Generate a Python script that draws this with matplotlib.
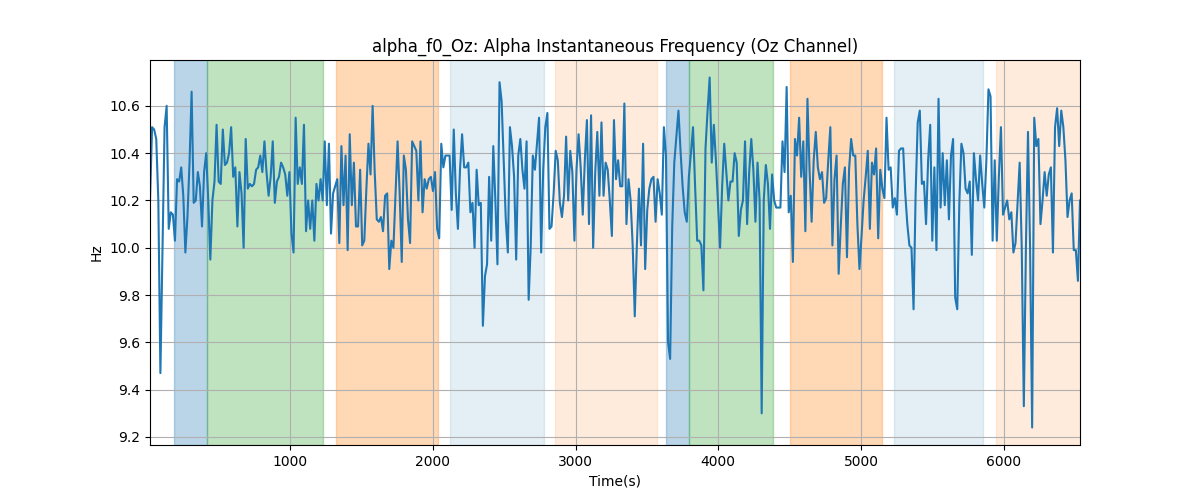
import numpy as np
import matplotlib
matplotlib.use("Agg")
import matplotlib.pyplot as plt

# time range of the series (s)
t_start = 19
t_end = 6534

# instantaneous alpha frequency, Oz channel (Hz)
f0_oz = [
    10.2, 10.51, 10.5, 10.46, 10.2, 9.47, 10.0, 10.51, 10.6, 10.08, 10.15, 10.14, 10.03,
    10.29, 10.28, 10.34, 10.22, 9.98, 10.13, 10.36, 10.66, 10.19, 10.2, 10.32, 10.26,
    10.09, 10.32, 10.4, 10.2, 9.95, 10.2, 10.28, 10.52, 10.28, 10.27, 10.5, 10.35, 10.36, 10.4,
    # 
    10.51, 10.3, 10.34, 10.09, 10.32, 10.23, 10.0, 10.46, 10.25, 10.27, 10.26, 10.27, 10.33,
    10.34, 10.39, 10.32, 10.45, 10.32, 10.22, 10.3, 10.45, 10.19, 10.28, 10.3, 10.36, 10.34,
    10.31, 10.22, 10.32, 10.06, 9.98, 10.55, 10.27, 10.34, 10.27, 10.52, 10.07, 10.2,
    #
    10.08, 10.2, 10.03, 10.27, 10.2, 10.29, 10.2, 10.45, 10.18, 10.44, 10.06, 10.23, 10.26,
    10.29, 10.02, 10.43, 10.18, 10.39, 9.99, 10.48, 10.18, 10.36, 10.09, 10.09, 10.33, 10.01,
    10.03, 10.25, 10.44, 10.31, 10.6, 10.32, 10.12, 10.11, 10.13, 10.07, 10.22,
    #
    10.23, 9.91, 10.03, 10.0, 10.23, 10.45, 10.23, 9.94, 10.39, 10.33, 10.12, 10.02, 10.45,
    10.43, 10.41, 10.2, 10.45, 10.15, 10.29, 10.25, 10.29, 10.3, 10.24, 10.32, 10.08, 10.04,
    10.44, 10.34, 10.39, 10.39, 10.39, 10.16, 10.5, 10.23, 10.08, 10.33, 10.48, 10.34,
    #
    10.34, 10.36, 10.15, 10.19, 10.0, 10.33, 10.18, 10.19, 9.67, 9.88, 9.93, 10.3, 10.03,
    10.43, 10.2, 9.93, 10.7, 10.62, 10.37, 10.12, 9.98, 10.51, 10.43, 10.3, 9.95, 10.39,
    10.46, 10.33, 10.25, 10.45, 9.78, 10.01, 10.39, 10.33, 10.44, 10.55, 9.98,
    #
    10.33, 10.51, 10.57, 10.08, 10.09, 10.23, 10.41, 10.37, 10.19, 10.13, 10.22, 10.47, 10.2,
    10.41, 10.32, 10.03, 10.33, 10.48, 10.34, 10.14, 10.37, 10.54, 10.1, 10.56, 10.0, 10.32,
    10.49, 10.22, 10.53, 10.22, 10.36, 10.33, 10.2, 10.05, 10.54, 10.29, 10.37, 10.26,
    #
    10.26, 10.61, 10.1, 10.29, 10.2, 10.01, 9.71, 10.01, 10.25, 10.01, 10.44, 9.91, 10.16,
    10.25, 10.29, 10.3, 10.11, 10.29, 10.23, 10.14, 10.51, 10.39, 9.6, 9.53, 10.09, 10.36,
    10.47, 10.58, 10.41, 10.26, 10.15, 10.11, 10.3, 10.4, 10.51, 10.26, 10.03,
    #
    10.03, 10.01, 9.82, 10.42, 10.58, 10.72, 10.36, 10.52, 10.37, 10.19, 10.0, 10.26, 10.44,
    10.32, 10.2, 10.28, 10.28, 10.4, 10.36, 10.05, 10.16, 10.2, 10.45, 10.1, 10.32, 10.46,
    10.33, 10.11, 10.36, 10.2, 9.3, 10.2, 10.35, 10.27, 10.08, 10.31, 10.2, 10.17,
    #
    10.17, 10.17, 10.45, 10.32, 10.68, 10.15, 10.22, 9.94, 10.46, 10.39, 10.55, 10.3, 10.45,
    10.07, 10.63, 10.33, 10.11, 10.37, 10.49, 10.34, 10.29, 10.32, 10.19, 10.21, 10.37,
    10.51, 10.01, 10.29, 10.39, 9.89, 10.09, 10.27, 10.34, 9.96, 10.33, 10.46, 10.39,
    #
    10.39, 10.1, 9.91, 10.05, 10.2, 10.3, 10.41, 10.08, 10.36, 10.31, 10.42, 10.04, 10.33,
    10.25, 10.21, 10.55, 10.33, 10.34, 10.17, 10.21, 10.14, 10.41, 10.42, 10.42, 10.23, 10.1,
    10.01, 10.0, 9.74, 10.23, 10.53, 10.58, 10.27, 10.28, 10.1, 10.37, 10.52, 10.03,
    #
    10.34, 9.99, 10.63, 10.17, 10.4, 10.18, 10.37, 10.12, 10.39, 10.46, 9.79, 9.74, 10.19,
    10.44, 10.4, 10.25, 10.23, 10.28, 9.97, 10.4, 10.29, 10.2, 10.39, 10.27, 10.17, 10.37,
    10.67, 10.64, 10.03, 10.37, 10.03, 10.3, 10.51, 10.14, 10.17, 10.2, 10.12,
    #
    10.15, 9.98, 10.02, 10.19, 10.36, 10.0, 9.33, 10.0, 10.49, 10.0, 9.24, 10.55, 10.43,
    10.46, 10.1, 10.2, 10.32, 10.22, 10.31, 10.34, 9.98, 10.51, 10.59, 10.43, 10.58, 10.51,
    10.37, 10.13, 10.2, 10.23, 9.99, 9.99, 9.86, 10.2,
]

# shaded segments: start, end, colour, alpha
span_starts = [187, 419, 1322, 2121, 2856, 3633, 3794, 4502, 5231, 5946]
span_ends = [419, 1231, 2037, 2779, 3570, 3794, 4383, 5147, 5855, 6600]
span_colors = ["tab:blue", "tab:green", "tab:orange", "tab:blue", "tab:orange",
               "tab:blue", "tab:green", "tab:orange", "tab:blue", "tab:orange"]
span_alphas = [0.3, 0.3, 0.3, 0.12, 0.15, 0.3, 0.3, 0.3, 0.12, 0.15]

time = np.linspace(t_start, t_end, len(f0_oz))

fig, ax = plt.subplots(figsize=(12, 5), dpi=100)

for s, e, c, a in zip(span_starts, span_ends, span_colors, span_alphas):
    ax.axvspan(s, e, color=c, alpha=a)

ax.plot(time, f0_oz, color="tab:blue")
ax.set_xlim(time[0], time[-1])
ax.grid(True)
ax.set_title("alpha_f0_Oz: Alpha Instantaneous Frequency (Oz Channel)")
ax.set_xlabel("Time(s)")
ax.set_ylabel("Hz")

fig.savefig("out.png")
